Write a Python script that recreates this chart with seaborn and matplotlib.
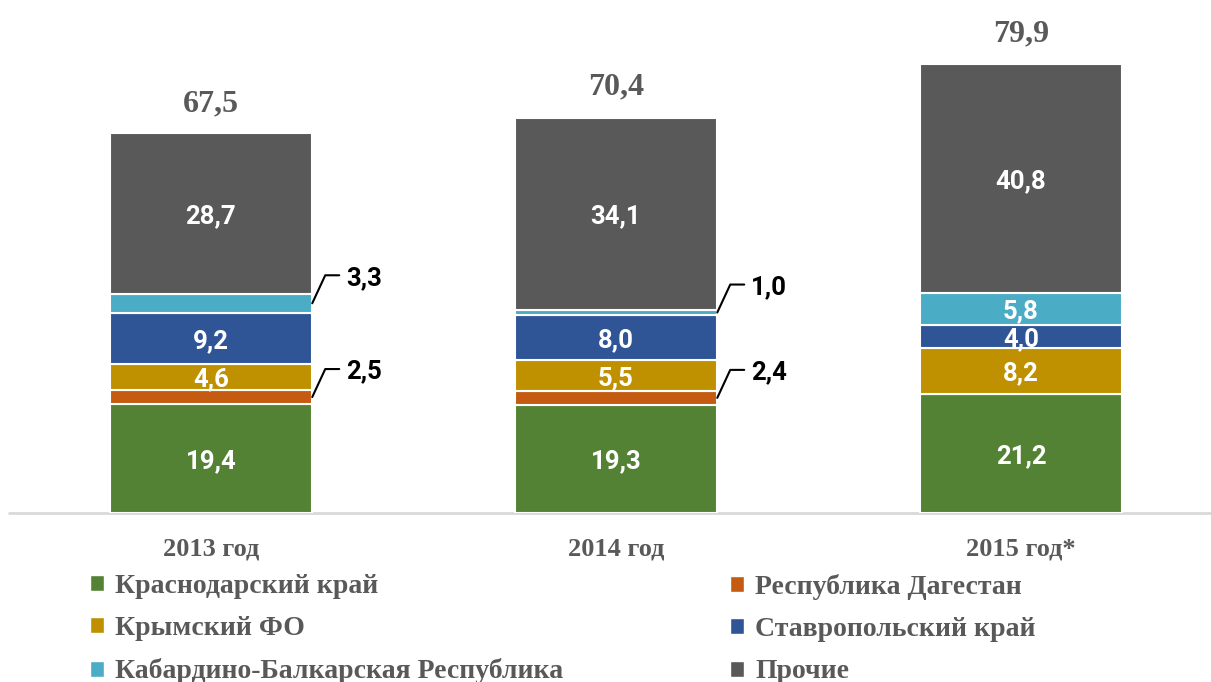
import pandas as pd
import seaborn as sns
import matplotlib.pyplot as plt
from matplotlib.patches import Patch

years = ['2013 год', '2014 год', '2015 год*']
regions = ['Краснодарский край', 'Республика Дагестан', 'Крымский ФО',
           'Ставропольский край', 'Кабардино-Балкарская Республика', 'Прочие']
krasnodar = [19.4, 19.3, 21.2]
dagestan = [2.5, 2.4, 0.0]
krym = [4.6, 5.5, 8.2]
stavropol = [9.2, 8.0, 4.0]
kbr = [3.3, 1.0, 5.8]
other = [28.7, 34.1, 40.8]
totals = [67.5, 70.4, 79.9]
colors = ['#548235', '#C55A11', '#BF9000', '#2F5597', '#4BACC6', '#595959']

series = [krasnodar, dagestan, krym, stavropol, kbr, other]
rows = []
for reg, vals in zip(regions, series):
    for yr, v in zip(years, vals):
        rows.append({'year': yr, 'region': reg, 'value': v})
df = pd.DataFrame(rows)

sns.set_style('white')
fig = plt.figure(figsize=(12.11, 6.82), dpi=100)
ax = fig.add_axes([0, 1 - 513 / 682, 1, 513 / 682])

# stack bottom-up in region order (seaborn stacks the last hue level at the bottom)
sns.histplot(data=df, x='year', hue='region', weights='value', multiple='stack',
             discrete=True, shrink=0.5, hue_order=regions[::-1],
             palette=colors[::-1], alpha=1, edgecolor='white', linewidth=1.5,
             legend=False, ax=ax)

px_x = 405.0
px_y = 5.615
ax.set_xlim(-211 / px_x, (1211 - 211) / px_x)
ax.set_ylim(0, 513 / px_y)
ax.axis('off')
ax.plot([(9 - 211) / px_x, (1211 - 211) / px_x], [0, 0], color='#d9d9d9', lw=2,
        clip_on=False, zorder=0)

val_font = dict(family=['Roboto', 'DejaVu Sans'], fontweight='bold', fontsize=18.5)
for i, yr in enumerate(years):
    bottom = 0
    for j, vals in enumerate(series):
        v = vals[i]
        mid = bottom + v / 2
        lab = f'{v:.1f}'.replace('.', ',')
        if v >= 4:
            ax.text(i, mid, lab, ha='center', va='center_baseline', color='white', **val_font)
        elif v > 0:
            x0 = i + 0.25
            x1 = x0 + 13 / px_x
            x2 = x1 + 14 / px_x
            y1 = mid + 28 / px_y
            ax.plot([x0, x1, x2], [mid, y1, y1], color='black', lw=1.5)
            ax.text(x2 + 7 / px_x, y1, lab, ha='left', va='center_baseline', color='black', **val_font)
        bottom += v
    ax.text(i, totals[i] + 34 / px_y, f'{totals[i]:.1f}'.replace('.', ','), ha='center',
            va='center_baseline', color='#595959', family='Liberation Serif',
            fontweight='bold', fontsize=23)
    ax.text(i, -34 / px_y, yr, ha='center', va='center_baseline', color='#595959',
            family='Liberation Serif', fontweight='bold', fontsize=19)

handles = [Patch(facecolor=c) for c in colors]
leg_kw = dict(frameon=False, prop={'family': 'Liberation Serif', 'weight': 'bold', 'size': 20},
              handlelength=0.5, handleheight=0.5, handletextpad=0.4, labelspacing=0.62,
              labelcolor='#595959', borderaxespad=0, borderpad=0)
fig.legend([handles[0], handles[2], handles[4]], [regions[0], regions[2], regions[4]],
           loc='upper left', bbox_to_anchor=(90 / 1211, 1 - 574 / 682), **leg_kw)
fig.legend([handles[1], handles[3], handles[5]], [regions[1], regions[3], regions[5]],
           loc='upper left', bbox_to_anchor=(730 / 1211, 1 - 574 / 682), **leg_kw)

fig.savefig('out.png', dpi=100)
